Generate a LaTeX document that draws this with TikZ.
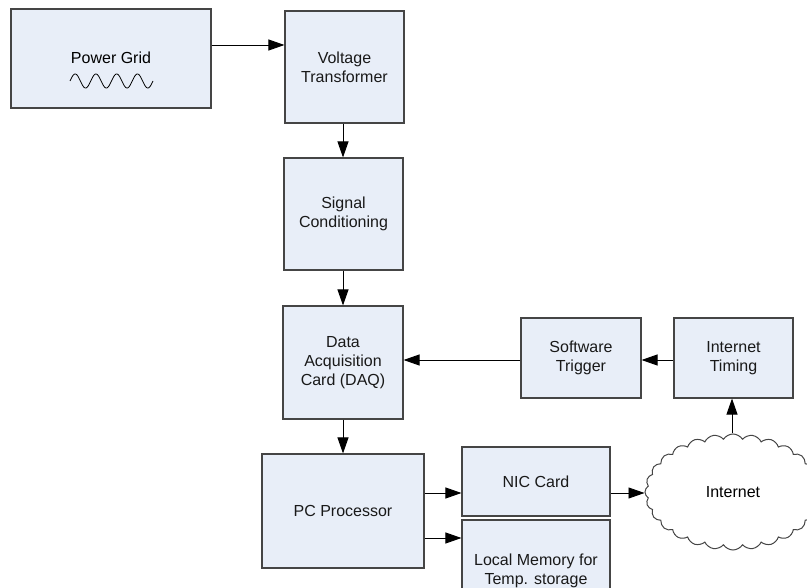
\documentclass[tikz,border=0pt]{standalone}
\usepackage{fontspec}
\setmainfont{Liberation Sans}
\usetikzlibrary{arrows.meta,shapes.symbols}
\definecolor{boxfill}{HTML}{E8EEF8}
\definecolor{boxline}{HTML}{454545}
\begin{document}
\begin{tikzpicture}[x=1pt,y=-1pt,
  blk/.style={draw=boxline, line width=1.1pt, fill=boxfill, inner sep=0pt,
    align=center, font=\fontsize{16}{19}\selectfont, text=black!90},
  arr/.style={draw=black, line width=0.9pt, -{Triangle[length=16pt,width=11pt]}}]
\clip (0,0) rectangle (807,588);
\fill[white] (0,0) rectangle (807,588);

% processing chain
\node[blk, minimum width=200, minimum height=99] (grid) at (111,58.5) {};
\node[font=\fontsize{16}{19}\selectfont] (gridlbl) at (111,58) {Power Grid};
\draw[line width=0.8pt] plot[domain=0:1440, samples=240]
  ({70 + \x/1440*83}, {81 - 7*sin(\x)});
\node[blk, minimum width=119, minimum height=112] (vt) at (344.5,67) {Voltage\\Transformer};
\node[blk, minimum width=119, minimum height=112] (sc) at (343.5,214) {Signal\\Conditioning};
\node[blk, minimum width=120, minimum height=113] (daq) at (343,362.5) {Data\\Acquisition\\Card (DAQ)};
\node[blk, minimum width=120, minimum height=80] (swt) at (581,358) {Software\\Trigger};
\node[blk, minimum width=119, minimum height=80] (itm) at (733.5,358) {Internet\\Timing};
\node[blk, minimum width=162, minimum height=114] (pc) at (343,511) {PC Processor};
\node[blk, minimum width=148, minimum height=69] (nic) at (536,481.5) {NIC Card};
\node[blk, minimum width=148, minimum height=102] (mem) at (536,571) {Local Memory for\\Temp. storage};
\node[cloud, cloud puffs=28, cloud puff arc=115, aspect=1.5, draw=boxline,
  line width=1pt, fill=white, minimum width=176, minimum height=116, inner sep=0pt,
  font=\fontsize{16}{19}\selectfont] (net) at (733,492) {Internet};

% connector rows and columns
\coordinate (r0) at (0,45);
\coordinate (r1) at (0,493);
\coordinate (r2) at (0,538);
\coordinate (r3) at (0,360);
\coordinate (c0) at (343,0);
\coordinate (c1) at (732,0);

% connectors
\draw[arr] (grid.east |- r0) -- (vt.west |- r0);
\draw[arr] (vt.south -| c0) -- (sc.north -| c0);
\draw[arr] (sc.south -| c0) -- (daq.north -| c0);
\draw[arr] (daq.south -| c0) -- (pc.north -| c0);
\draw[arr] (swt.west |- r3) -- (daq.east |- r3);
\draw[arr] (itm.west |- r3) -- (swt.east |- r3);
\draw[arr] (net.north -| c1) -- (itm.south -| c1);
\draw[arr] (pc.east |- r1) -- (nic.west |- r1);
\draw[arr] (pc.east |- r2) -- (mem.west |- r2);
\draw[arr] (nic.east |- r1) -- (net.west |- r1);
\end{tikzpicture}
\end{document}
